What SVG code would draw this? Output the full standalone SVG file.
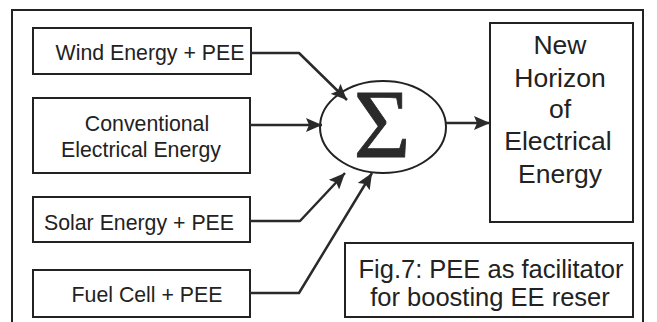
<svg xmlns="http://www.w3.org/2000/svg" width="657" height="322" viewBox="0 0 657 322">
<defs>
<style>
.box{fill:#fff;stroke:#222;stroke-width:2}
.t{font-family:"Liberation Sans",Arial,sans-serif;fill:#222;text-anchor:middle}
.in{font-size:21.3px}
.out{font-size:26.5px}
.cap{font-size:25.5px}
.c{fill:none;stroke:#2a2a2a;stroke-width:2.5;stroke-linejoin:round}
</style>
<marker id="ah" markerUnits="userSpaceOnUse" markerWidth="18" markerHeight="14" refX="16" refY="7" orient="auto" viewBox="0 0 18 14">
<path d="M0,0 L16,7 L0,14 L3,7 z" fill="#2a2a2a"/>
</marker>
</defs>
<rect width="657" height="322" fill="#fff"/>
<g id="frame" fill="none" stroke="#222" stroke-width="2">
<path d="M12,322 L12,10 L643,10 L643,322"/>
</g>
<g id="wind">
<rect class="box" x="33" y="28" width="218" height="46"/>
<text class="t in" x="150" y="60">Wind Energy + PEE</text>
</g>
<g id="conventional">
<rect class="box" x="33" y="98" width="217" height="75"/>
<text class="t in" x="147" y="131">Conventional</text>
<text class="t in" x="141" y="157">Electrical Energy</text>
</g>
<g id="solar">
<rect class="box" x="33" y="197" width="217" height="45"/>
<text class="t in" x="139" y="230">Solar Energy + PEE</text>
</g>
<g id="fuel">
<rect class="box" x="33" y="270" width="217" height="47"/>
<text class="t in" x="147" y="302">Fuel Cell + PEE</text>
</g>
<g id="sum">
<ellipse cx="383" cy="127" rx="63" ry="46" fill="#fff" stroke="#222" stroke-width="2"/>
<text x="382" y="157" font-family="'Liberation Serif','Times New Roman',serif" font-size="98" text-anchor="middle" fill="#2a2a2a" stroke="#2a2a2a" stroke-width="0.8">Σ</text>
</g>
<g id="output">
<rect class="box" x="490" y="23" width="143" height="199"/>
<text class="t out" x="560" y="54">New</text>
<text class="t out" x="560" y="87">Horizon</text>
<text class="t out" x="560" y="118">of</text>
<text class="t out" x="558" y="150">Electrical</text>
<text class="t out" x="560" y="183">Energy</text>
</g>
<g id="caption">
<rect class="box" x="345" y="243" width="288" height="74"/>
<text class="t cap" x="491" y="278">Fig.7: PEE as facilitator</text>
<text class="t cap" x="490" y="306">for boosting EE reser</text>
</g>
<g id="connectors">
<path class="c" d="M251,53 L299,53 L347,100" marker-end="url(#ah)" stroke-width="3"/>
<path class="c" d="M250,125 L322,125" marker-end="url(#ah)"/>
<path class="c" d="M250,221 L300,221 L345,173" marker-end="url(#ah)"/>
<path class="c" d="M250,293 L299,293 L372,173" marker-end="url(#ah)"/>
<path class="c" d="M446,123 L490,123" marker-end="url(#ah)"/>
</g>
</svg>
